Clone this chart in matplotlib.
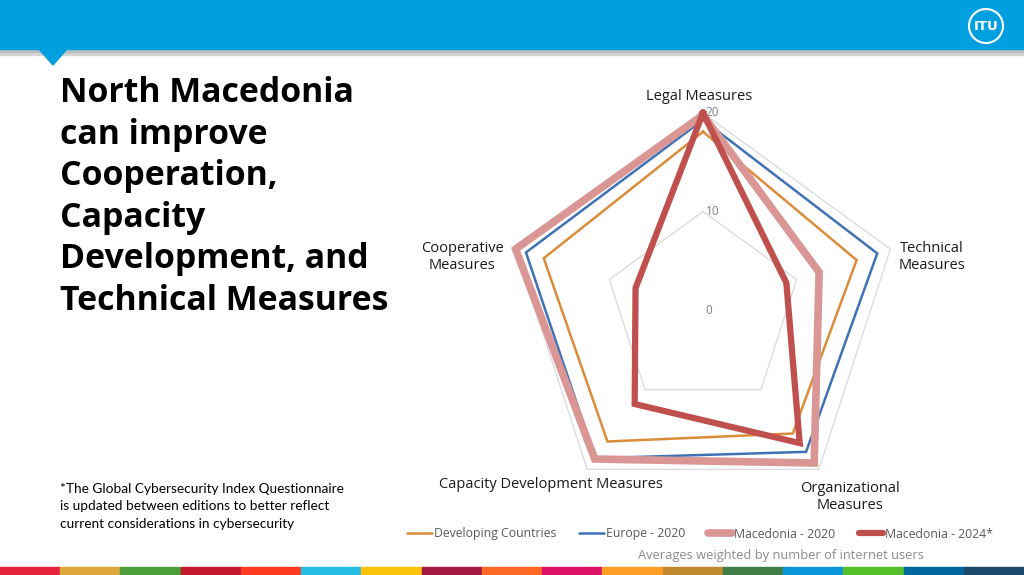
import matplotlib
matplotlib.use("Agg")
import matplotlib.pyplot as plt
from matplotlib.lines import Line2D
from matplotlib.patches import Rectangle, Polygon, Ellipse
import numpy as np

W, H = 1024, 575

categories = ["Legal Measures", "Technical\nMeasures", "Organizational\nMeasures",
              "Capacity Development Measures", "Cooperative\nMeasures"]
developing = [18.1, 16.4, 15.5, 16.5, 17.0]
europe_2020 = [19.3, 18.6, 17.8, 18.6, 18.9]
macedonia_2020 = [19.8, 12.4, 19.2, 18.7, 20.0]
macedonia_2024 = [20.0, 8.9, 16.7, 11.8, 7.2]
series_names = ["Developing Countries", "Europe - 2020", "Macedonia - 2020", "Macedonia - 2024*"]
ring_values = [0, 10, 20]

colors = ["#DB8C3A", "#3F72B5", "#D99694", "#C0504D"]
widths = [1.8, 1.8, 5.5, 4.5]

sdg_colors = ["#E5243B", "#DDA63A", "#4C9F38", "#C5192D", "#FF3A21", "#26BDE2",
              "#FCC30B", "#A21942", "#FD6925", "#DD1367", "#FD9D24", "#BF8B2E",
              "#3F7E44", "#0A97D9", "#56C02B", "#00689D", "#19486A"]


def px(x, y):
    # pixel coords (top-left origin) -> figure fraction
    return x / W, 1 - y / H


fig = plt.figure(figsize=(W / 100, H / 100), dpi=100)
fig.patch.set_facecolor("white")

# header bar with shadow and pointer
fig.add_artist(Rectangle(px(0, 55), 1, 7 / H, color="#d4d4d4", transform=fig.transFigure, zorder=1))
fig.add_artist(Rectangle(px(0, 52), 1, 3 / H, color="#bdbdbd", transform=fig.transFigure, zorder=1))
fig.add_artist(Rectangle(px(0, 49), 1, 49 / H, color="#009FDF", transform=fig.transFigure, zorder=2))
fig.add_artist(Polygon([px(38, 48), px(68, 48), px(53, 65)], closed=True,
                       color="#009FDF", transform=fig.transFigure, zorder=2))
# ITU logo
cx, cy = px(986, 26)
fig.add_artist(Ellipse((cx, cy), 34 / W, 34 / H, transform=fig.transFigure, fill=False,
                       ec="white", lw=1.5, zorder=3))
fig.text(cx, cy, "ITU", color="white", fontsize=9.5, fontweight="bold",
         ha="center", va="center", family="DejaVu Sans")

# bottom SDG colour strip
seg = 1 / len(sdg_colors)
for i, c in enumerate(sdg_colors):
    fig.add_artist(Rectangle((i * seg, 0), seg, 8 / H, color=c, transform=fig.transFigure))

# title and footnote
fig.text(*px(60, 76), "North Macedonia\ncan improve\nCooperation,\nCapacity\nDevelopment, and\nTechnical Measures",
         fontsize=24.4, fontweight="bold", family="Open Sans", va="top", ha="left",
         linespacing=1.29, color="black")
fig.text(*px(60, 483), "*The Global Cybersecurity Index Questionnaire\nis updated between editions to better reflect\ncurrent considerations in cybersecurity",
         fontsize=9.8, family="Lato", va="top", ha="left", linespacing=1.55, color="black")

# radar chart
ax = fig.add_axes([506 / W, 68 / H, 394 / W, 394 / H], projection="polar")
ax.set_theta_offset(np.pi / 2)
ax.set_theta_direction(-1)
angles = np.linspace(0, 2 * np.pi, len(categories), endpoint=False)
closed = np.concatenate([angles, angles[:1]])

ax.set_ylim(0, 20)
ax.grid(False)
ax.spines["polar"].set_visible(False)
ax.set_xticks([])
ax.set_yticks([])
ax.patch.set_alpha(0)

for r in ring_values[1:]:
    ax.plot(closed, [r] * len(closed), color="#d9d9d9", lw=0.9, zorder=1, clip_on=False)
for r in ring_values:
    ax.annotate(str(r), (0, r), xytext=(2, 0), textcoords="offset points",
                ha="left", va="center", fontsize=8.5, color="#808080", family="Open Sans")

all_series = [developing, europe_2020, macedonia_2020, macedonia_2024]
handles = []
for vals, name, c, lw in zip(all_series, series_names, colors, widths):
    v = np.concatenate([vals, vals[:1]])
    ax.plot(closed, v, color=c, lw=lw, label=name, clip_on=False,
            solid_joinstyle="miter", zorder=3)
    handles.append(Line2D([], [], color=c, lw=lw, solid_capstyle="round"))

label_pos = [(699, 97), (932, 257), (850, 497), (551, 484), (462, 257)]
for lab, (x, y) in zip(categories, label_pos):
    fig.text(*px(x, y), lab, ha="center", va="center", fontsize=10.5,
             family="Open Sans", color="#1a1a1a", linespacing=1.15)

leg = fig.legend(handles, series_names, loc="center", bbox_to_anchor=px(700, 534),
                 ncol=4, frameon=False, handlelength=2.0, handletextpad=0.15,
                 columnspacing=1.9, prop={"family": "Open Sans", "size": 8.8})
for t in leg.get_texts():
    t.set_color("#595959")

fig.text(*px(781, 555), "Averages weighted by number of internet users", ha="center", va="center",
         fontsize=9.3, family="Open Sans", color="#8c8c8c")

fig.savefig("out.png", dpi=100)
